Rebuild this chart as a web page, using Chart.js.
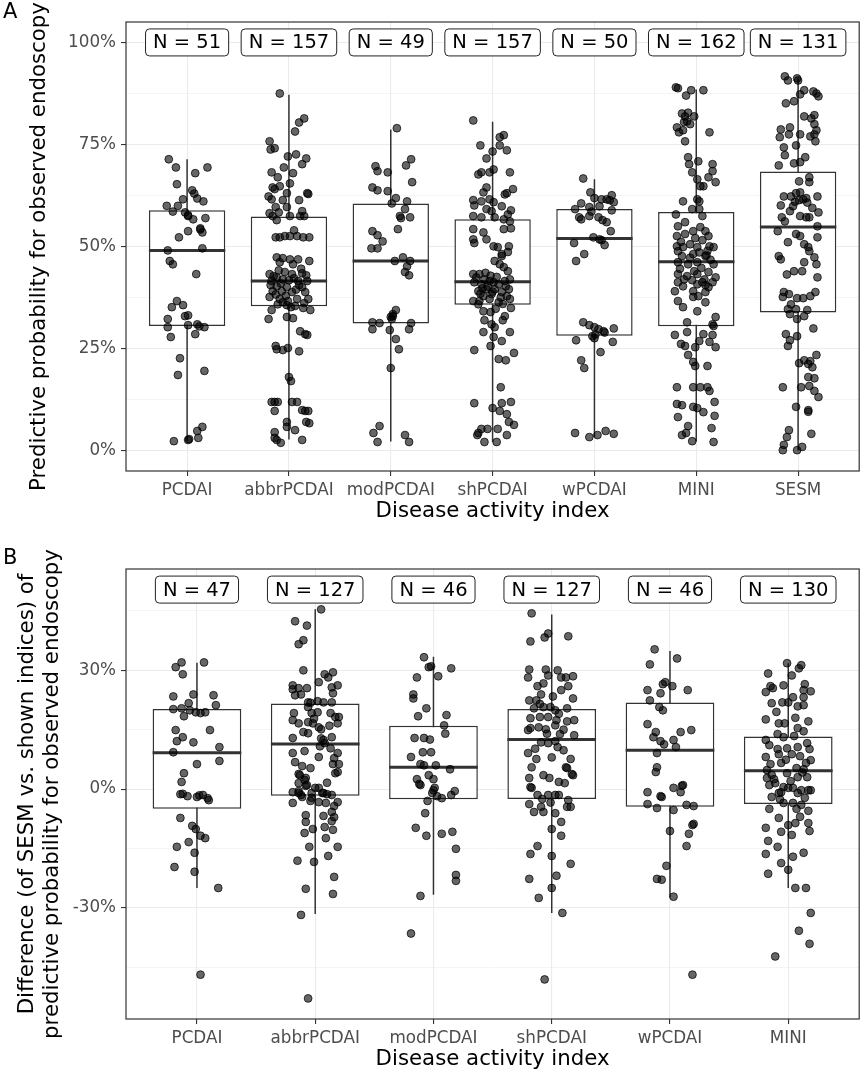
<!DOCTYPE html>
<html>
<head>
<meta charset="utf-8">
<script src="https://cdn.jsdelivr.net/npm/chart.js@4.4.1/dist/chart.umd.min.js"></script>
<style>
  body { margin: 0; background: #fff; width: 864px; height: 1074px; position: relative; overflow: hidden; font-family: "DejaVu Sans", sans-serif; }
  .panel { position: absolute; left: 0; width: 864px; height: 537px; }
  #panelA { top: 0; }
  #panelB { top: 537px; }
  .tag { position: absolute; left: 3px; font-size: 21px; line-height: 21px; color: #000; }
</style>
</head>
<body>
<div class="panel" id="panelA"><canvas id="chartA" width="864" height="537"></canvas></div>
<div class="panel" id="panelB"><canvas id="chartB" width="864" height="537"></canvas></div>
<div class="tag" style="top:1px">A</div>
<div class="tag" style="top:547px">B</div>
<script>
// ---- panel A data ----
const catsA = ["PCDAI", "abbrPCDAI", "modPCDAI", "shPCDAI", "wPCDAI", "MINI", "SESM"];
const countsA = [51, 157, 49, 157, 50, 162, 131];
const lowA = [2.5, 2.8, 2.3, 2.2, 3.4, 2.3, 0.1];
const q1A = [30.6, 35.4, 31.2, 35.8, 28.2, 30.5, 33.9];
const medA = [49.1, 41.6, 46.5, 41.4, 52.0, 46.3, 54.8];
const q3A = [58.9, 57.4, 60.6, 56.7, 59.2, 58.5, 68.4];
const highA = [71.4, 87.2, 78.7, 80.6, 66.5, 88.5, 91.2];
const yMajorA = [0, 25, 50, 75, 100];
const yMinorA = [12.5, 37.5, 62.5, 87.5];

// points: [jitter offset in 1/100 of a category, value in %]
const pcdaiA = [[-18,71.4],[-11,69.4],[20,69.4],[8,68],[-10,65.3],[5,63.8],[7,63],[10,61.8],[16,61.1],[-4,61.6],[-20,60],[-9,60],[-14,58.6],[-2,58.4],[1,57.7],[6,56.7],[18,57],[13,54.5],[1,53.8],[-8,52.3],[15,53.5],[15,49.6],[-19,49.1],[-17,46.5],[-14,45.7],[9,43.3],[-10,36.7],[-15,35.2],[-4,35.7],[-2,33],[1,33.2],[-19,32.3],[-19,30.3],[10,31],[17,30.3],[8,28.6],[-16,27.9],[-7,22.7],[-9,18.6],[17,19.6],[15,5.9],[10,4.9],[11,3.2],[2,2.9],[-13,2.4],[1,2.7],[13,54.2],[1,57.5],[1,30.8],[12,30.5]];
const abbrA = [[-9,87.5],[15,81.4],[10,80.4],[6,78.2],[-19,75.8],[-18,73.8],[-14,74.1],[7,72.6],[-1,72.1],[17,71.6],[13,70.2],[-5,69.4],[-17,68.2],[4,68],[-11,67],[-9,64.8],[1,65.5],[-16,64.5],[-14,64.1],[-2,63.1],[18,63.1],[19,62.9],[-20,62.3],[-17,61.6],[-6,61.4],[10,61.4],[-13,59.7],[-2,59.7],[-19,58.2],[-10,58.4],[13,58.7],[-16,57.5],[1,57.5],[11,57.5],[15,57.5],[-12,56.5],[5,54],[-13,52.3],[-9,52.3],[-4,52.6],[1,52.6],[8,52.6],[14,52.3],[20,52.3],[-12,47.4],[-6,47.2],[1,46.9],[9,46.9],[20,46.5],[4,45.7],[-9,46.2],[-19,43.3],[13,43.5],[3,43.3],[-12,42.5],[-6,42],[-17,41.6],[9,41.6],[18,41.6],[-12,40.3],[-2,40.1],[13,40.1],[-16,39.1],[-7,39.1],[3,38.9],[16,38.9],[-19,37.7],[-9,37.2],[-1,36.7],[8,37.2],[19,37.2],[-11,35.9],[-2,35.7],[6,35.5],[14,35],[21,34.5],[-17,34.5],[-20,32.3],[-2,32.8],[4,32.5],[11,29.3],[16,28.6],[18,28.4],[-13,25.7],[-12,24.9],[-6,24.7],[-1,25.2],[10,24.4],[0,18.1],[2,17.1],[-17,12],[-14,12],[-11,12],[3,12],[8,12],[-14,9.8],[13,10],[16,9.8],[19,9.8],[-2,7.1],[-2,5.9],[17,7.1],[20,6.8],[6,5.1],[-14,4.6],[-14,3.2],[-12,2.7],[-8,2],[13,2.7],[-15,42.8],[-8,41],[5,42.3],[10,40.6],[-4,43.8],[-13,38.3],[7,39.5],[15,36.2],[-6,36.4],[0,41.8],[12,44.6],[-18,40.6],[2,35.2],[-10,44.2],[17,43],[-3,38]];
const modA = [[6,79],[-15,69.7],[-13,68.5],[20,71.4],[15,69.9],[-3,68.2],[21,65.8],[-18,64.5],[-13,63.8],[-3,63.6],[5,61.9],[16,61.1],[1,60.6],[14,59.2],[9,57.5],[19,57.2],[7,54.3],[-18,53.8],[-13,52.8],[-8,51.3],[-19,49.6],[-13,49.6],[12,47.4],[4,46.5],[19,46.5],[16,45.2],[18,43],[14,43.8],[5,34.5],[2,33.5],[0,32.8],[1,32.3],[-18,31.5],[-11,31.3],[20,31.3],[-18,29.8],[-1,29.6],[18,29.8],[5,27.4],[8,24.9],[0,20.3],[-11,6.1],[-17,4.4],[-13,2.2],[14,3.9],[18,2.2],[2,33],[10,57]];
const shA = [[-19,80.9],[11,77.3],[7,76.8],[-12,74.8],[7,74.8],[14,73.6],[0,73.3],[-6,71.6],[17,68.2],[-11,68.2],[-14,67.7],[1,68.9],[-3,68.2],[20,64.1],[14,63.1],[12,62.8],[-9,63.3],[-6,64.5],[-19,61.4],[-18,60.1],[-11,61.1],[-3,61.6],[1,60.9],[-6,59.2],[-1,58.7],[9,59.9],[18,58.9],[15,57.9],[-19,57.5],[-11,57.2],[2,57.2],[11,56.7],[17,56.2],[18,54.5],[-19,54.3],[11,54.3],[-9,53.5],[-19,51.8],[-18,50.9],[-6,51.8],[1,50.1],[5,49.9],[16,50.1],[9,48.2],[15,48.7],[9,47.7],[2,46.5],[11,45],[7,45.7],[17,42],[-19,43.3],[-13,43.3],[-8,42],[-3,41.6],[-18,41.3],[-11,40.8],[1,41.3],[6,40.8],[12,41.6],[-6,39.6],[-14,39.1],[2,39.6],[9,38.9],[16,39.6],[-9,37.9],[-1,38.4],[14,37.9],[-19,36.7],[-13,36.7],[-3,37.2],[6,36.4],[17,37.2],[18,35],[-9,34.2],[-2,34],[12,33],[-8,32],[10,32],[-1,31],[2,30.3],[-9,29.1],[17,29.1],[1,27.9],[9,26.9],[-2,25.7],[-18,24.7],[21,24],[6,22.5],[13,22.2],[8,15.6],[-18,11.7],[0,10.5],[9,11.7],[18,12],[7,9.8],[14,9],[16,7.1],[21,6.4],[-14,4.4],[-11,5.4],[-5,5.4],[5,5.4],[-8,2.2],[4,2.2],[14,3.9],[-15,3.9],[-16,42.5],[-5,40.2],[4,42.6],[-10,39.8],[13,40.3],[-7,43.6],[8,37.6],[-14,35.9],[0,39],[-2,42.9],[15,44],[-12,38.5],[10,36],[3,34.8]];
const wA = [[-11,66.7],[-4,63.3],[17,62.6],[0,61.9],[7,61.6],[12,61.6],[15,61.4],[19,60.9],[-13,60.6],[-19,59.2],[-5,59.7],[5,59.9],[17,58.9],[-15,57.2],[-13,56.7],[-5,57.5],[4,57.2],[8,56.5],[12,56],[16,53.8],[-1,52.3],[5,51.8],[7,51.6],[10,50.4],[-20,50.9],[-10,48.2],[-18,46.5],[-11,31.5],[-5,30.8],[0,30.3],[4,29.8],[9,29.3],[19,30],[-2,28.1],[0,27.6],[-18,27.1],[18,26.7],[6,24.2],[-13,22.2],[-10,20.3],[-19,4.4],[-5,3.4],[3,3.9],[11,4.9],[19,4.2],[1,28.5],[-3,58.6],[10,29]];
const miniA = [[-20,89],[-18,88.8],[-5,88.3],[7,88.3],[-10,87],[-14,82.6],[-11,81.9],[-2,81.9],[-9,80.7],[-6,80],[-19,79.2],[-13,78.5],[-17,78],[13,78],[-11,75.8],[-8,71.9],[2,70.9],[-7,70.2],[16,70.2],[-4,68.2],[16,68.5],[12,67],[19,65.8],[1,66.5],[4,64.8],[7,64.8],[1,61.6],[-13,61.1],[3,61.1],[-4,59.2],[3,59.2],[-20,57.9],[6,57.5],[-11,56],[-18,55],[-3,53.8],[4,54.8],[9,53.8],[12,52.6],[-19,52.6],[-11,53.1],[-1,52.1],[6,51.6],[-6,50.6],[-19,50.1],[-13,49.9],[13,50.1],[1,49.9],[17,49.9],[10,47.9],[-14,47.7],[-18,48.9],[-3,48.2],[9,47.7],[-18,46.2],[-8,45.7],[1,46.2],[17,45.7],[-18,43.3],[-9,42.8],[1,43.3],[12,43.8],[19,42.5],[-18,41.3],[-13,40.3],[1,40.8],[6,41.3],[16,41.3],[-21,39.1],[-3,39.1],[9,38.9],[12,40.1],[2,37.9],[-18,36.7],[-3,37.7],[9,36.4],[-13,35.2],[1,34.2],[-9,31.5],[19,32.8],[16,31],[17,30.6],[-9,29.1],[-21,28.4],[7,28.6],[16,28.4],[3,26.9],[13,26.7],[-15,26.2],[-11,25.7],[-1,25.4],[19,25.4],[-8,23.5],[-3,21.8],[-1,20.8],[11,20.8],[-19,15.6],[-3,15.6],[4,15.6],[11,15.6],[13,14.7],[-19,11.5],[-14,11.2],[-3,10.8],[1,10.5],[7,9.5],[18,12],[18,8.6],[-18,8.3],[-8,6.1],[15,5.6],[-10,4.4],[-14,3.9],[-4,2.4],[17,2.2],[-16,44.6],[5,44.8],[-6,47.3],[14,46.8],[-12,42],[8,42],[-2,44],[11,49],[-15,51.2],[3,48.6],[-8,82.8],[-12,80.5],[9,40.6],[-4,41.8]];
const sesmA = [[-13,91.7],[-10,90.7],[-1,91.2],[0,90.7],[6,88.3],[2,87.3],[15,88],[18,87.5],[20,86.8],[-4,85.6],[-12,85.1],[6,81.9],[13,81.4],[16,82.2],[16,80],[18,78.5],[-17,78.7],[-8,79.2],[16,77.5],[-18,76.8],[-9,77.5],[2,77.5],[12,77],[17,75.8],[-14,74.3],[-2,74.8],[-13,72.4],[7,71.9],[2,70.7],[-4,70.4],[-19,69.9],[1,66],[11,65.8],[11,67],[-14,62.3],[-7,62.3],[-2,63.1],[2,63.3],[8,61.9],[19,62.3],[1,61.4],[5,61.6],[-17,60.1],[-5,59.9],[20,58.4],[-16,57.2],[2,57.5],[8,57.2],[11,57.2],[-13,56.2],[19,55],[-20,53.8],[-2,53.1],[2,52.6],[19,52.3],[-10,51.1],[6,50.6],[10,49.9],[-19,47.7],[-17,46.9],[6,46.2],[18,45.7],[16,47.4],[11,48.9],[-4,44],[19,42.5],[-14,38.9],[-9,38.4],[-15,37.7],[-7,35.9],[-1,37.4],[5,37.4],[12,37.9],[17,38.9],[-10,34.7],[-2,34.7],[9,34.5],[-8,33.5],[6,33],[-1,32.3],[15,30],[-12,28.6],[-1,28.1],[-8,27.1],[-10,25.7],[18,23.5],[1,21.5],[6,22.2],[10,21.3],[14,20.5],[10,18.1],[16,17.8],[11,15.9],[-15,15.6],[3,15.6],[16,14.7],[20,13.2],[-2,10.8],[10,10],[-9,5.1],[-11,3.4],[13,4.2],[-14,1.5],[-15,0.2],[-1,0.2],[4,1],[4,44],[-3,61],[9,60.8],[-8,58.7],[14,59.5],[-11,43.2],[12,22],[10,9.6]];
const pointsA = [pcdaiA, abbrA, modA, shA, wA, miniA, sesmA];

// ---- panel B data ----
const catsB = ["PCDAI", "abbrPCDAI", "modPCDAI", "shPCDAI", "wPCDAI", "MINI"];
const countsB = [47, 127, 46, 127, 46, 130];
const lowB = [-25.0, -31.6, -26.7, -31.3, -27.4, -25.0];
const q1B = [-5.0, -1.7, -2.6, -2.5, -4.5, -3.8];
const medB = [9.2, 11.4, 5.5, 12.5, 9.8, 4.6];
const q3B = [20.2, 21.6, 16.0, 20.2, 21.9, 13.3];
const highB = [31.9, 45.4, 33.4, 44.1, 34.9, 31.8];
const yMajorB = [-30, 0, 30];
const yMinorB = [-45, -15, 15, 45];

const pcdaiB = [[-13,32],[6,32],[-18,30.8],[-12,29],[-20,23.4],[-3,23.9],[14,23.7],[-7,21.7],[-13,20.4],[-20,20.2],[-1,19.4],[7,19.4],[3,19.2],[16,21.2],[-11,18.4],[-18,14.9],[11,14.9],[-12,13.1],[-17,12.1],[-3,11.8],[19,10.6],[-20,9.3],[19,7.1],[0,6.3],[-11,4],[-13,1.8],[-14,-1.3],[-8,-1.8],[0,-2],[5,-1.5],[9,-2.3],[10,-2.8],[-14,-7.3],[-4,-9.3],[-1,-10.1],[3,-11.8],[7,-12.4],[-17,-14.6],[-7,-13.4],[-2,-16.1],[-19,-19.7],[-2,-20.9],[18,-25],[3,-46.9],[-6,19.9],[2,-1.6],[-12,-1.2]];
const abbrB = [[5,45.4],[-17,42.4],[-7,41.3],[-10,37.6],[-14,36.6],[-10,30],[8,29],[11,28.2],[15,29.5],[3,27],[-19,26.2],[-19,25.2],[-14,25.5],[-12,23.9],[-7,25.5],[-17,23.7],[14,25.7],[19,26.2],[15,24.2],[-6,21.9],[2,22.2],[7,21.9],[14,21.9],[-18,19.2],[-6,20.7],[-19,17.4],[-14,16.6],[-3,19.2],[2,19.4],[13,19.2],[17,18.2],[20,18.2],[19,16.6],[-6,16.9],[-2,16.6],[3,15.6],[5,15.1],[-10,14.4],[-6,14.1],[-19,12.9],[7,12.4],[14,13.1],[8,11.6],[13,10.3],[19,9.1],[-19,9.1],[16,7.8],[3,8.1],[-17,6.8],[-11,5.8],[-4,5.3],[15,6.3],[19,4.3],[-13,3.5],[-9,2.3],[-7,1],[-19,-0.8],[-14,-1],[0,0.3],[6,-1],[10,-1.3],[-11,-2],[20,6.3],[17,4],[-14,3.8],[-8,2.8],[-14,1.5],[-8,0.8],[-14,-0.5],[-12,-1.5],[-3,-1],[3,0.3],[7,-1],[14,-1.5],[-19,-3.5],[-4,-3],[3,-3.3],[9,-3.5],[16,-4.3],[19,-3.3],[-8,-6.6],[7,-6.8],[14,-5.8],[16,-7.1],[14,-8.1],[-8,-8.3],[-2,-10.1],[-9,-11.1],[8,-9.6],[15,-10.3],[9,-12.4],[-5,-14.6],[19,-14.6],[11,-16.9],[-15,-18.1],[-1,-18.4],[16,-22.2],[-8,-25.2],[-12,-31.8],[-6,-52.9],[15,-26.5],[-4,21.8],[-1,17.8],[12,16],[4,10.8],[-9,9.6],[10,1.6],[-3,-2.2],[5,12.8]];
const modB = [[-8,33.3],[-4,30.8],[-14,28.2],[-17,23.9],[-17,22.9],[-6,20.4],[-13,18.4],[-16,12.9],[-8,12.9],[-9,9.3],[-19,8.1],[-11,6.3],[-8,6],[-14,2.5],[-11,1],[-2,31],[4,28.5],[15,30.5],[11,18.7],[9,16.1],[-2,9.3],[14,5],[0,2.5],[1,0.3],[18,-0.5],[15,-1.5],[2,6],[-4,3.5],[-12,1.3],[0,-0.3],[-1,-1],[7,-2.3],[-5,-3],[-7,-6.1],[-15,-9.8],[-6,-11.8],[7,-11.3],[16,-10.8],[19,-15.1],[19,-21.7],[19,-23.2],[-11,-27],[-19,-36.5],[10,14],[-3,12.5],[3,-1.8]];
const shB = [[-17,44.4],[-18,37.3],[-6,38.3],[-3,39.3],[14,38.6],[-19,30.2],[-5,30.2],[5,30],[-20,28.2],[-3,28.7],[8,28.2],[12,28.2],[18,28.5],[-12,26],[-7,26.7],[14,26],[-9,23.9],[1,23.4],[18,22.9],[-19,22.4],[-13,22.4],[-15,20.4],[-7,20.7],[-1,20.7],[3,19.9],[13,20.4],[-18,17.9],[-10,18.2],[-3,18.2],[4,17.4],[13,17.1],[19,17.4],[-18,15.4],[-11,15.6],[-5,15.1],[3,16.1],[7,13.9],[19,13.6],[-20,14.9],[-9,11.8],[-3,11.6],[3,12.1],[5,10.6],[10,9.8],[-20,9.1],[-13,7.6],[16,7.6],[-17,5.5],[12,5.5],[-19,2.8],[-7,3.5],[-2,2.8],[6,1.8],[18,3.5],[-18,0.5],[-12,-1.5],[-3,-1.5],[3,-1.5],[11,1.5],[13,5.3],[17,3.8],[-17,0.3],[6,-1.5],[-19,-3.8],[-15,-5.8],[-9,-4.5],[-7,-5.8],[3,-6.1],[13,-4.5],[16,-4.5],[8,-8.3],[0,-10.1],[8,-11.8],[-12,-14.4],[-18,-16.4],[0,-16.9],[16,-18.9],[4,-21.9],[-19,-22.7],[0,-25],[-11,-27.5],[9,-31.3],[-6,-48.1],[-10,21.5],[6,19],[-4,14],[10,15],[-14,10.2],[0,8],[8,25],[-8,-2.5],[14,-2.8],[-1,-3.4]];
const wB = [[-13,35.3],[6,33],[-17,31.5],[-4,27],[-6,26.5],[2,26],[-8,24.2],[-19,25],[15,25],[-17,22.4],[-9,20.7],[-6,19.9],[-19,16.4],[-12,14.4],[-14,13.1],[-8,12.1],[-5,11.3],[3,12.4],[5,10.6],[9,14.4],[18,14.9],[-11,9.1],[-11,5.5],[-12,4.3],[-19,-0.8],[-7,-2],[3,0.3],[10,0.8],[9,-0.8],[-19,-3.8],[-11,-4.8],[3,-5.3],[14,-4],[20,-4.3],[19,-9.1],[16,-11.3],[14,-14.4],[0,-10.6],[-3,-19.4],[-11,-22.7],[-7,-22.9],[3,-27.2],[19,-46.9],[-8,-1.8],[11,1],[20,-8.8]];
const miniB = [[-1,31.8],[11,31.3],[9,30.5],[-17,29.2],[3,28.7],[-15,26],[-13,25.5],[-4,26.2],[14,26.5],[-19,24.5],[13,25],[19,24.7],[4,23.2],[13,23.2],[-14,21.7],[-5,21.9],[0,21.9],[8,20.9],[13,21.2],[-19,17.6],[-8,16.6],[-3,16.6],[8,15.4],[17,17.1],[13,14.6],[-19,12.4],[-9,13.9],[-4,13.1],[5,13.4],[16,11.6],[-16,11.1],[-9,10.1],[-1,10.3],[8,10.6],[18,10.1],[-19,8.1],[-8,8.8],[3,8.8],[10,8.3],[19,7.3],[-15,6.3],[-6,6.6],[15,6.6],[-18,4.8],[-1,4],[7,5.3],[13,5],[-18,2.8],[-12,2.5],[8,3],[16,3],[-16,1],[-4,0.5],[4,0.3],[11,-0.3],[19,-0.3],[-8,-1],[-11,1.5],[-6,-0.8],[0,0.3],[8,-1],[17,-0.3],[-14,-2],[-4,-3.5],[4,-3.5],[11,-4],[17,-5.5],[-8,-7.3],[0,-9.1],[6,-8.6],[10,-7],[17,-8.6],[-19,-9.8],[-6,-10.8],[3,-11.6],[18,-10.6],[-17,-13.1],[-9,-14.6],[-19,-16.4],[4,-17.1],[13,-16.1],[-6,-18.7],[-17,-21.4],[0,-20.4],[6,-25],[15,-25],[19,-31.3],[9,-35.8],[18,-39.1],[-11,-42.3],[-10,19.5],[6,18],[-2,7.4],[12,4.2],[-14,3.6],[2,2],[-7,-2.6],[14,-2.2],[-16,-5],[7,-5]];
const pointsB = [pcdaiB, abbrB, modB, shB, wB, miniB];

// ---- drawing ----
const FONT = "'DejaVu Sans'";
const BOX_W = 0.75;
const INK = "#333333";
const GRID = "#EBEBEB";
Chart.defaults.font.family = FONT;
Chart.defaults.animation = false;

const panelDecor = {
  id: "panelDecor",
  afterDatasetsDraw(chart, args, opts) {
    const { ctx, chartArea: a, scales: { x, y } } = chart;
    ctx.save();
    ctx.font = "19.5px " + FONT;
    opts.counts.forEach((n, i) => {
      const t = "N = " + n;
      const cx = x.getPixelForValue(i + 1);
      const cy = y.getPixelForValue(opts.labelAt);
      const w = ctx.measureText(t).width + 15;
      const h = 27;
      ctx.beginPath();
      ctx.roundRect(cx - w / 2, cy - h / 2, w, h, 4);
      ctx.fillStyle = "#fff";
      ctx.fill();
      ctx.lineWidth = 1;
      ctx.strokeStyle = "#222";
      ctx.stroke();
      ctx.fillStyle = "#000";
      ctx.textAlign = "center";
      ctx.textBaseline = "middle";
      ctx.fillText(t, cx, cy + 1);
    });
    ctx.strokeStyle = INK;
    ctx.lineWidth = 1.2;
    ctx.strokeRect(a.left, a.top, a.width, a.height);
    ctx.restore();
  }
};

function makePanel(id, o) {
  const n = o.cats.length;
  const dots = [], whisk = [], meds = [];
  o.points.forEach((g, i) => g.forEach(p => dots.push({ x: i + 1 + p[0] / 100, y: p[1] })));
  o.cats.forEach((c, i) => {
    whisk.push({ x: i + 1, y: o.low[i] }, { x: i + 1, y: o.high[i] }, { x: i + 1, y: null });
    meds.push({ x: i + 1 - BOX_W / 2, y: o.med[i] }, { x: i + 1 + BOX_W / 2, y: o.med[i] }, { x: i + 1, y: null });
  });
  const boxes = o.cats.map((c, i) => ({ x: i + 1, y: [o.q1[i], o.q3[i]] }));
  const yTicks = o.yMajor.concat(o.yMinor).sort((p, q) => p - q);
  const isMajor = ctx => ctx.tick && o.yMajor.includes(ctx.tick.value);

  new Chart(document.getElementById(id), {
    type: "scatter",
    data: {
      datasets: [
        { type: "line", data: whisk, borderColor: INK, borderWidth: 1.5, pointRadius: 0, spanGaps: false, order: 4 },
        { type: "bar", data: boxes, backgroundColor: "#fff", borderColor: INK, borderWidth: 1.5,
          borderSkipped: false, barPercentage: BOX_W, categoryPercentage: 1, order: 3 },
        { type: "line", data: meds, borderColor: INK, borderWidth: 3, pointRadius: 0, spanGaps: false, order: 2 },
        { type: "scatter", data: dots, pointRadius: 3.9, backgroundColor: "rgba(0,0,0,0.6)",
          borderColor: "rgba(0,0,0,0.9)", borderWidth: 0.8, order: 1 }
      ]
    },
    options: {
      responsive: false,
      events: [],
      layout: { padding: { top: o.padTop, right: 4, left: 0, bottom: 0 } },
      plugins: {
        legend: { display: false },
        tooltip: { enabled: false },
        panelDecor: { counts: o.counts, labelAt: o.labelAt }
      },
      scales: {
        x: {
          type: "linear", min: 0.4, max: n + 0.6, offset: false,
          afterBuildTicks: s => { s.ticks = o.cats.map((c, i) => ({ value: i + 1 })); },
          afterFit: s => { s.height = o.xAxisH; },
          ticks: { autoSkip: false, maxRotation: 0, color: "#4D4D4D", font: { size: 16.8 }, padding: 5,
                   callback: v => o.cats[Math.round(v) - 1] },
          grid: { offset: false, color: GRID, lineWidth: 1.1, tickColor: INK, tickLength: 5, tickWidth: 1.1 },
          border: { display: false },
          title: { display: true, text: "Disease activity index", color: "#000",
                   font: { size: 21.3, lineHeight: 1.2 }, padding: { top: 0, bottom: o.xTitlePad } }
        },
        y: {
          type: "linear", min: o.yMin, max: o.yMax,
          afterBuildTicks: s => { s.ticks = yTicks.map(v => ({ value: v })); },
          afterFit: s => { s.width = 126; },
          ticks: { autoSkip: false, color: "#4D4D4D", font: { size: 16.8 }, padding: 5,
                   callback: v => o.yMajor.includes(v) ? v + "%" : "" },
          grid: { color: GRID, lineWidth: c => isMajor(c) ? 1.1 : 0.55,
                  tickColor: c => isMajor(c) ? INK : "rgba(0,0,0,0)", tickLength: 5, tickWidth: 1.1 },
          border: { display: false },
          title: { display: true, text: o.yTitle, color: "#000",
                   font: { size: 21.3, lineHeight: o.yTitleLH }, padding: { top: o.yTitlePad, bottom: 0 } }
        }
      }
    },
    plugins: [panelDecor]
  });
}

makePanel("chartA", {
  cats: catsA, counts: countsA, points: pointsA,
  low: lowA, q1: q1A, med: medA, q3: q3A, high: highA,
  yMajor: yMajorA, yMinor: yMinorA, yMin: -4.9, yMax: 105.0, labelAt: 100,
  padTop: 22, xAxisH: 66, xTitlePad: 13,
  yTitle: "Predictive probability for observed endoscopy", yTitleLH: 1.2, yTitlePad: 27
});

makePanel("chartB", {
  cats: catsB, counts: countsB, points: pointsB,
  low: lowB, q1: q1B, med: medB, q3: q3B, high: highB,
  yMajor: yMajorB, yMinor: yMinorB, yMin: -58.1, yMax: 55.6, labelAt: 50.4,
  padTop: 32, xAxisH: 55, xTitlePad: 2,
  yTitle: ["Difference (of SESM vs. shown indices) of", "predictive probability for observed endoscopy"],
  yTitleLH: 1.17, yTitlePad: 15
});
</script>
</body>
</html>
